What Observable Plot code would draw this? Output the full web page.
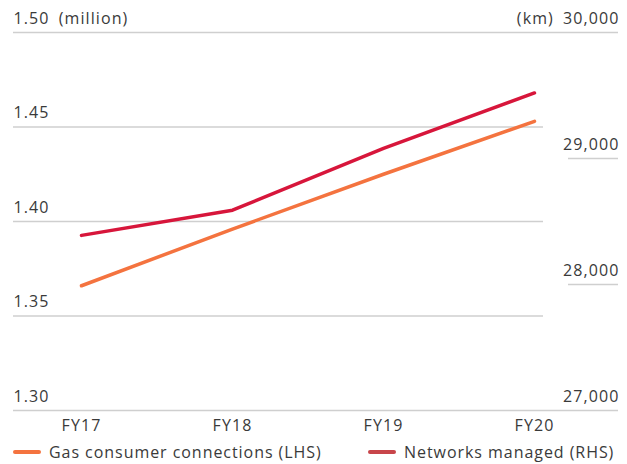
<!DOCTYPE html>
<html>
<head>
<meta charset="utf-8">
<script src="https://cdn.jsdelivr.net/npm/d3@7"></script>
<script src="https://cdn.jsdelivr.net/npm/@observablehq/plot@0.6"></script>
<style>
  html, body { margin: 0; padding: 0; background: #fff; }
  body { width: 627px; height: 464px; overflow: hidden; font-family: "Open Sans", sans-serif; color: #3a3a3a; }
  .legend { position: relative; height: 24px; font-size: 16px; letter-spacing: 0.95px; }
  .item { position: absolute; top: 0; height: 24px; display: flex; align-items: center; white-space: nowrap; }
  .sw { width: 28px; height: 4px; border-radius: 2px; margin-right: 8px; }
</style>
</head>
<body>
<div id="chart"></div>
<div class="legend" id="legend"></div>
<script>
// Data
const years = ["FY17", "FY18", "FY19", "FY20"];
const gasConnections = [1.366, 1.396, 1.425, 1.453];      // million (LHS)
const networksKm = [28390, 28590, 29080, 29520];          // km (RHS)
const leftTicks = [1.30, 1.35, 1.40, 1.45, 1.50];
const rightTicks = [27000, 28000, 29000, 30000];
const seriesNames = ["Gas consumer connections (LHS)", "Networks managed (RHS)"];
const colors = ["#f4733f", "#d7163b"];
const legendColors = ["#f4733f", "#c8454a"];
const legendLeft = [13, 368];

// map RHS km onto LHS scale (27,000 -> 1.30, 30,000 -> 1.50)
const kmToLeft = km => 1.30 + (km - 27000) / 3000 * 0.20;

const rows = [];
years.forEach((y, i) => {
  rows.push({year: y, series: seriesNames[0], v: gasConnections[i]});
  rows.push({year: y, series: seriesNames[1], v: kmToLeft(networksKm[i])});
});

const gridColor = "#cfcfcf";
const innerLeft = leftTicks.slice(1, -1);
const innerRight = rightTicks.slice(1, -1);

const chart = Plot.plot({
  width: 627,
  height: 440,
  marginTop: 32,
  marginBottom: 30,
  marginLeft: 13,
  marginRight: 9,
  style: {fontFamily: "'Open Sans', sans-serif", fontSize: "16px", color: "#3a3a3a", background: "#fff", letterSpacing: "1.1px"},
  x: {type: "point", domain: years, padding: 0.5, align: 0.45, label: null},
  y: {domain: [1.30, 1.50], label: null},
  marks: [
    Plot.ruleY(innerLeft, {y: d => d, stroke: gridColor, strokeWidth: 1.5, insetRight: 75}),
    Plot.ruleY(innerRight.map(kmToLeft), {y: d => d, stroke: gridColor, strokeWidth: 1.5, insetLeft: 555}),
    Plot.ruleY([leftTicks[0], leftTicks[leftTicks.length - 1]], {y: d => d, stroke: gridColor, strokeWidth: 1.5}),
    Plot.axisY({
      anchor: "left", ticks: leftTicks, tickSize: 0, tickPadding: 0, textAnchor: "start", dy: -14,
      tickFormat: d => d === 1.5 ? "1.50\u2002(million)" : d.toFixed(2), label: null
    }),
    Plot.axisY(rightTicks.map(kmToLeft), {
      anchor: "right", tickSize: 0, tickPadding: 0, textAnchor: "end", dy: -14, dx: 1,
      tickFormat: (d, i) => (rightTicks[i] === 30000 ? "(km)\u2002" : "") + d3.format(",")(rightTicks[i]), label: null
    }),
    Plot.axisX({tickSize: 0, tickPadding: 9, label: null}),
    Plot.line(rows, {x: "year", y: "v", z: "series", stroke: d => d.series === seriesNames[0] ? colors[0] : colors[1], strokeWidth: 3.5, strokeLinecap: "round"})
  ]
});
document.getElementById("chart").appendChild(chart);

const legend = document.getElementById("legend");
seriesNames.forEach((name, i) => {
  const item = document.createElement("div");
  item.className = "item";
  item.style.left = legendLeft[i] + "px";
  const sw = document.createElement("span");
  sw.className = "sw";
  sw.style.background = legendColors[i];
  const t = document.createElement("span");
  t.textContent = name;
  item.appendChild(sw);
  item.appendChild(t);
  legend.appendChild(item);
});
</script>
</body>
</html>
